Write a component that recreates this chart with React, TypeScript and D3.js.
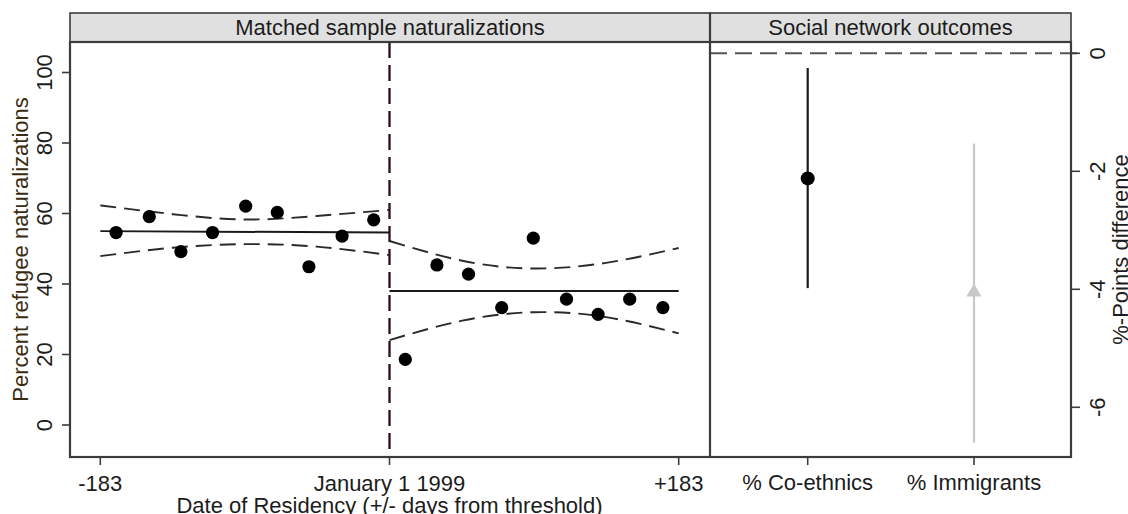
import React from "react";
import * as d3 from "d3";

// Binned naturalization rates (days relative to 1 Jan 1999)
const daysBefore = [-173, -152, -132, -112, -91, -71, -51, -30, -10];
const rateBefore = [54.6, 59.1, 49.2, 54.6, 62.1, 60.3, 44.9, 53.6, 58.2];
const daysAfter = [10, 30, 50, 71, 91, 112, 132, 152, 173];
const rateAfter = [18.6, 45.4, 42.8, 33.3, 53.0, 35.7, 31.4, 35.7, 33.3];

// Fitted level on each side of the threshold
const fitDaysBefore = [-183, 0];
const fitBefore = [55.0, 54.6];
const fitDaysAfter = [0, 183];
const fitAfter = [38.0, 38.0];

// Confidence bands
const bandDaysBefore = [-183, -137, -91, -46, 0];
const bandUpperBefore = [62.3, 59.8, 58.3, 59.3, 61.0];
const bandLowerBefore = [47.9, 50.3, 51.3, 50.6, 48.2];
const bandDaysAfter = [0, 46, 91, 137, 183];
const bandUpperAfter = [52.2, 46.6, 44.4, 46.0, 50.2];
const bandLowerAfter = [24.1, 29.6, 32.0, 30.6, 26.0];

// Social network outcomes
const outcomes = ["% Co-ethnics", "% Immigrants"];
const outcomeEstimate = [-2.12, -4.05];
const outcomeUpper = [-0.25, -1.53];
const outcomeLower = [-3.98, -6.6];

const leftTicks = [0, 20, 40, 60, 80, 100];
const rightTicks = [0, -2, -4, -6];
const dayTicks = [-183, 0, 183];
const dayTickLabels = ["-183", "January 1 1999", "+183"];

const W = 1128;
const H = 514;
const panelTop = 42;
const panelBottom = 457;
const stripTop = 13;
const leftX0 = 70;
const divX = 710;
const rightX1 = 1071;

const FONT = "'Liberation Sans', Arial, sans-serif";
const FS = 22;
const TEXT = "#1c1c1c";
const FRAME = "#3c3c3c";

export default function App() {
  const xL = d3.scaleLinear().domain([-183, 183]).range([100.3, 678.7]);
  const yL = d3.scaleLinear().domain([0, 100]).range([425, 72.5]);
  const yR = d3.scaleLinear().domain([0, -6]).range([53.3, 407.3]);
  const xR = d3.scalePoint<string>().domain(outcomes).range([807.7, 974]);

  const straight = d3
    .line<[number, number]>()
    .x((d) => xL(d[0]))
    .y((d) => yL(d[1]));
  const smooth = d3
    .line<[number, number]>()
    .x((d) => xL(d[0]))
    .y((d) => yL(d[1]))
    .curve(d3.curveNatural);

  const zip = (a: number[], b: number[]) => a.map((v, i) => [v, b[i]] as [number, number]);

  const bands = [
    zip(bandDaysBefore, bandUpperBefore),
    zip(bandDaysBefore, bandLowerBefore),
    zip(bandDaysAfter, bandUpperAfter),
    zip(bandDaysAfter, bandLowerAfter),
  ];

  const tri = d3.symbol().type(d3.symbolTriangle).size(98)();

  const panelMidY = (panelTop + panelBottom) / 2;

  return (
    <svg
      width={W}
      height={H}
      style={{ position: "absolute", left: 0, top: 0, background: "#fff" }}
      fontFamily={FONT}
      fontSize={FS}
    >
      <rect x={0} y={0} width={W} height={H} fill="#fff" />

      {/* strips */}
      <rect x={leftX0} y={stripTop} width={divX - leftX0} height={panelTop - stripTop} fill="#e0e0e0" stroke={FRAME} strokeWidth={1.6} />
      <rect x={divX} y={stripTop} width={rightX1 - divX} height={panelTop - stripTop} fill="#e0e0e0" stroke={FRAME} strokeWidth={1.6} />
      <text x={(leftX0 + divX) / 2} y={35} textAnchor="middle" fill={TEXT}>
        Matched sample naturalizations
      </text>
      <text x={(divX + rightX1) / 2} y={35} textAnchor="middle" fill={TEXT}>
        Social network outcomes
      </text>

      {/* left panel: bands, fits, points */}
      {bands.map((b, i) => (
        <path key={"band" + i} d={smooth(b) || ""} fill="none" stroke="#2a2a2a" strokeWidth={1.9} strokeDasharray="16 8" />
      ))}
      <path d={straight(zip(fitDaysBefore, fitBefore)) || ""} fill="none" stroke="#1a1a1a" strokeWidth={2} />
      <path d={straight(zip(fitDaysAfter, fitAfter)) || ""} fill="none" stroke="#1a1a1a" strokeWidth={2} />
      {daysBefore.map((d, i) => (
        <circle key={"b" + i} cx={xL(d)} cy={yL(rateBefore[i])} r={6.6} fill="#000" />
      ))}
      {daysAfter.map((d, i) => (
        <circle key={"a" + i} cx={xL(d)} cy={yL(rateAfter[i])} r={6.6} fill="#000" />
      ))}
      <line x1={xL(0)} x2={xL(0)} y1={panelTop} y2={panelBottom} stroke="#2a0f18" strokeWidth={2.3} strokeDasharray="16 7" />

      {/* right panel */}
      <line x1={divX} x2={rightX1 + 8} y1={yR(0)} y2={yR(0)} stroke="#555" strokeWidth={2} strokeDasharray="17 8" />
      {outcomes.map((o, i) => {
        const grey = i === 1;
        const col = grey ? "#c8c8c8" : "#1a1a1a";
        return (
          <g key={o}>
            <line x1={xR(o)} x2={xR(o)} y1={yR(outcomeUpper[i])} y2={yR(outcomeLower[i])} stroke={col} strokeWidth={2.2} />
            {grey ? (
              <path d={tri || ""} transform={`translate(${xR(o)},${yR(outcomeEstimate[i])})`} fill={col} />
            ) : (
              <circle cx={xR(o)} cy={yR(outcomeEstimate[i])} r={7} fill="#000" />
            )}
          </g>
        );
      })}

      {/* frames */}
      <rect x={leftX0} y={panelTop} width={rightX1 - leftX0} height={panelBottom - panelTop} fill="none" stroke={FRAME} strokeWidth={2.2} />
      <line x1={divX} x2={divX} y1={stripTop} y2={panelBottom} stroke={FRAME} strokeWidth={2.2} />

      {/* left y axis */}
      {leftTicks.map((t) => (
        <g key={"ly" + t}>
          <line x1={leftX0 - 8} x2={leftX0} y1={yL(t)} y2={yL(t)} stroke={FRAME} strokeWidth={1.6} />
          <text transform={`translate(52,${yL(t)}) rotate(-90)`} textAnchor="middle" fill={TEXT}>
            {t}
          </text>
        </g>
      ))}
      <text transform={`translate(28,${panelMidY}) rotate(-90)`} textAnchor="middle" fill="#3a2c10">
        Percent refugee naturalizations
      </text>

      {/* bottom axis, left panel */}
      {dayTicks.map((t, i) => (
        <g key={"lx" + t}>
          <line x1={xL(t)} x2={xL(t)} y1={panelBottom} y2={panelBottom + 8} stroke={FRAME} strokeWidth={1.6} />
          <text x={xL(t)} y={490.5} textAnchor="middle" fill={TEXT}>
            {dayTickLabels[i]}
          </text>
        </g>
      ))}
      <text x={xL(0)} y={512.5} textAnchor="middle" fill={TEXT}>
        Date of Residency (+/- days from threshold)
      </text>

      {/* bottom axis, right panel */}
      {outcomes.map((o) => (
        <g key={"rx" + o}>
          <line x1={xR(o)} x2={xR(o)} y1={panelBottom} y2={panelBottom + 8} stroke={FRAME} strokeWidth={1.6} />
          <text x={xR(o)} y={490} textAnchor="middle" fill={TEXT}>
            {o}
          </text>
        </g>
      ))}

      {/* right y axis */}
      {rightTicks.map((t) => (
        <g key={"ry" + t}>
          <line x1={rightX1} x2={rightX1 + 9} y1={yR(t)} y2={yR(t)} stroke={FRAME} strokeWidth={1.6} />
          <text transform={`translate(1105,${yR(t)}) rotate(-90)`} textAnchor="middle" fill={TEXT}>
            {t}
          </text>
        </g>
      ))}
      <text transform={`translate(1128,${panelMidY}) rotate(-90)`} textAnchor="middle" fill={TEXT}>
        %-Points difference
      </text>
    </svg>
  );
}
